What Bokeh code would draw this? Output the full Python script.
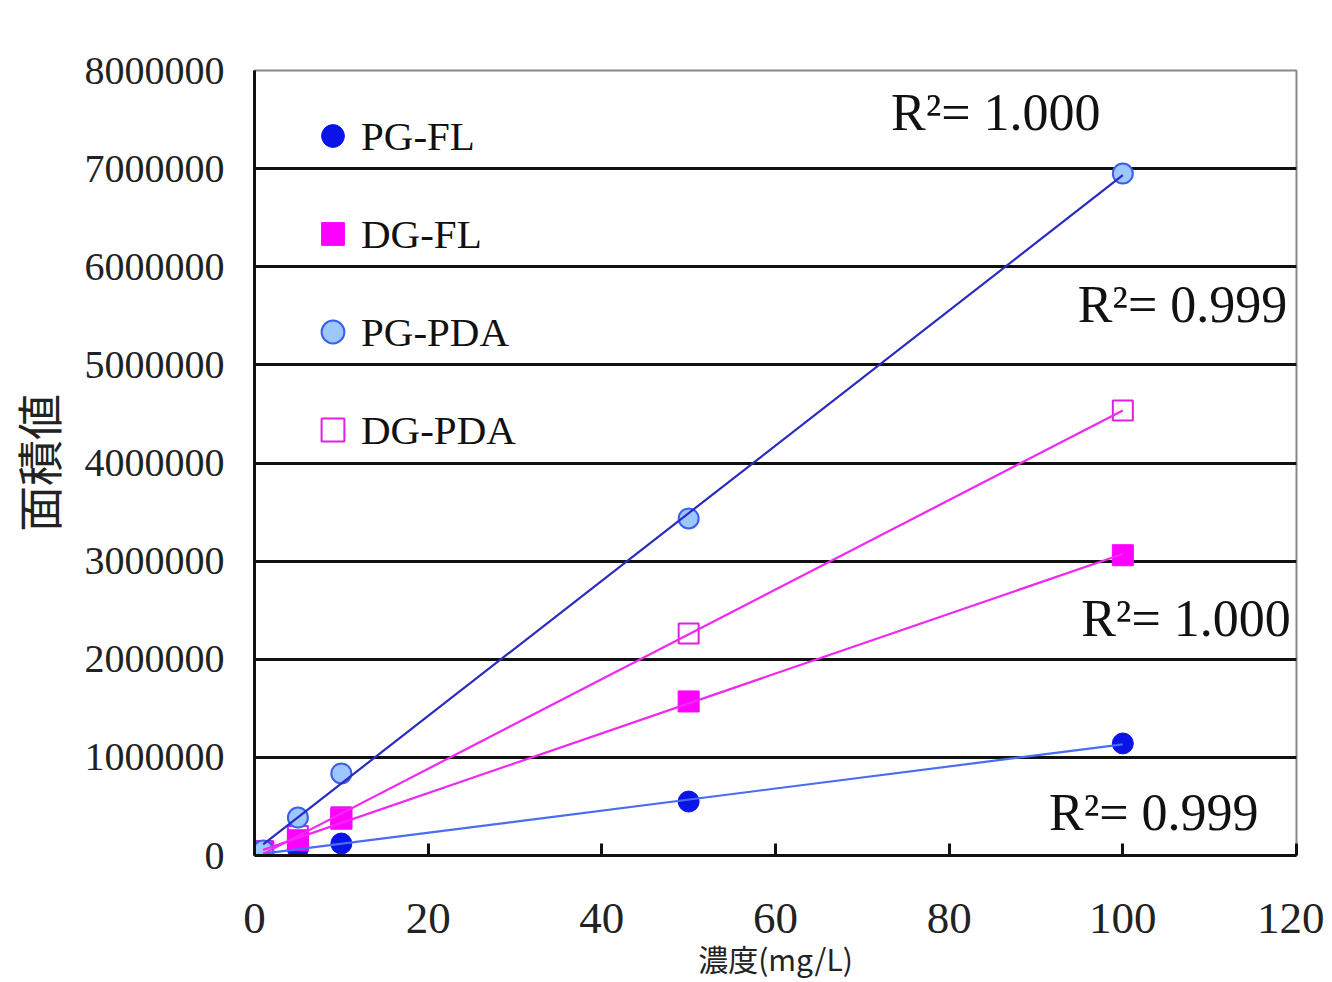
import numpy as np
from bokeh.plotting import figure
from bokeh.models import (Range1d, FixedTicker, BasicTickFormatter, Legend, LegendItem, Label)
from bokeh.embed import file_html
from bokeh.resources import INLINE

# ---- data ----
conc = [1, 5, 10, 50, 100]
pg_fl = [20000, 70000, 122000, 550000, 1142000]
dg_fl = [30000, 155000, 375000, 1570000, 3060000]
pg_pda = [50000, 387000, 836000, 3435000, 6950000]
dg_pda = [45000, 200000, 390000, 2262000, 4535000]
series_names = ["PG-FL", "DG-FL", "PG-PDA", "DG-PDA"]
r2_texts = ["R²= 1.000", "R²= 0.999", "R²= 1.000", "R²= 0.999"]
r2_pos_x = [73.3, 94.8, 95.2, 91.5]
r2_pos_y = [7575000, 5615000, 2415000, 440000]
x_ticks = [0, 20, 40, 60, 80, 100, 120]
y_ticks = [0, 1000000, 2000000, 3000000, 4000000, 5000000, 6000000, 7000000, 8000000]

SERIF = "Liberation Serif"
CJK = "Noto Sans CJK JP"

p = figure(width=1324, height=982, output_backend="svg", toolbar_location=None,
           x_range=Range1d(0, 120), y_range=Range1d(0, 8000000),
           min_border_left=250, min_border_right=28, min_border_top=70, min_border_bottom=127)
p.background_fill_color = "white"
p.border_fill_color = "white"
p.outline_line_color = "#888888"
p.outline_line_width = 2

# grid
p.xgrid.visible = False
p.ygrid.grid_line_color = "#111111"
p.ygrid.grid_line_width = 3
p.ygrid.ticker = FixedTicker(ticks=y_ticks)

# axes
p.xaxis.ticker = FixedTicker(ticks=x_ticks)
p.yaxis.ticker = FixedTicker(ticks=y_ticks)
p.yaxis.formatter = BasicTickFormatter(use_scientific=False)
for ax in (p.xaxis[0], p.yaxis[0]):
    ax.axis_line_color = "#111111"
    ax.axis_line_width = 3
    ax.major_label_text_font = SERIF
    ax.major_label_text_color = "#222222"
    ax.minor_tick_line_color = None
    ax.major_tick_line_color = "#111111"
    ax.major_tick_line_width = 3
    ax.axis_label_text_font = CJK
    ax.axis_label_text_color = "#222222"
    ax.axis_label_text_font_style = "normal"
p.yaxis.major_label_text_font_size = "40px"
p.xaxis.major_label_text_font_size = "45px"
p.xaxis.major_tick_in = 12
p.xaxis.major_tick_out = 0
p.xaxis.major_label_standoff = 48
p.yaxis.major_tick_in = 0
p.yaxis.major_tick_out = 0
p.yaxis.major_label_standoff = 30
p.yaxis.axis_label = "面積値"
p.yaxis.axis_label_text_font_size = "46px"
p.yaxis.axis_label_standoff = 12
p.xaxis.axis_label = "濃度(mg/L)"
p.xaxis.axis_label_text_font_size = "30px"
p.xaxis.axis_label_standoff = 0

data = {"PG-FL": pg_fl, "DG-FL": dg_fl, "PG-PDA": pg_pda, "DG-PDA": dg_pda}

# markers (drawn in the reference's stacking order)
r_pgfl = p.scatter(conc, pg_fl, marker="circle", size=21, fill_color="#0a14e6", line_color="#0a14e6")
r_dgpda = p.scatter(conc, dg_pda, marker="square", size=20, fill_color="white", fill_alpha=0.0,
                    line_color="#e020e0", line_width=2)
r_dgfl = p.scatter(conc, dg_fl, marker="square", size=21, fill_color="#ff00ff", line_color="#ff00ff")
r_pgpda = p.scatter(conc, pg_pda, marker="circle", size=20, fill_color="#9cc8ff", line_color="#3a5ef0", line_width=2)

# trend lines (linear fits), drawn over the markers
xs = np.array(conc, dtype=float)
line_cols = {"PG-FL": "#4a6cf0", "DG-FL": "#f028f0", "PG-PDA": "#2a2ac0", "DG-PDA": "#f028f0"}
for name in series_names:
    k, b = np.polyfit(xs, np.array(data[name], dtype=float), 1)
    xx = [xs.min(), xs.max()]
    p.line(xx, [k * v + b for v in xx], line_color=line_cols[name], line_width=2.2)

legend = Legend(items=[LegendItem(label=n, renderers=[r]) for n, r in
                       zip(series_names, [r_pgfl, r_dgfl, r_pgpda, r_dgpda])],
                location=(50, 397), glyph_width=57, glyph_height=57, spacing=41,
                label_standoff=0, padding=0, margin=0,
                label_text_font=SERIF, label_text_font_size="41px", label_text_color="#111111",
                border_line_color=None, background_fill_alpha=0.0)
p.add_layout(legend)

for t, x, y in zip(r2_texts, r2_pos_x, r2_pos_y):
    p.add_layout(Label(x=x, y=y, text=t, text_font=SERIF, text_font_size="52px",
                       text_color="#111111", text_baseline="alphabetic"))

open("out.html", "w").write(file_html(p, INLINE))
